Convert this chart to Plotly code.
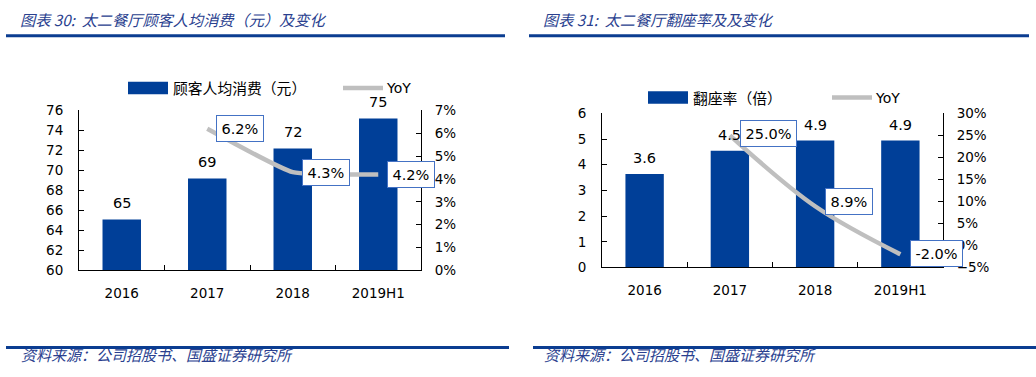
import plotly.graph_objects as go

# ---- data ----
categories = ["2016", "2017", "2018", "2019H1"]
spend = [65.1, 69.2, 72.2, 75.2]            # 顾客人均消费（元）
spend_yoy = [None, 0.062, 0.043, 0.042]     # YoY
turnover = [3.64, 4.54, 4.94, 4.94]         # 翻座率（倍）
turnover_yoy = [None, 0.25, 0.089, -0.02]   # YoY

W, H = 1036, 377
BLUE = "#003F98"
GRAY = "#BFBFBF"
RULE = "#0B3D91"
TITLE_C = "#2A3F8F"
FONT = "DejaVu Sans"
CJK = "Noto Sans CJK SC"

def px(x):
    return x / W

def py(y):
    return 1 - y / H

fig = go.Figure()

fig.add_trace(go.Bar(x=categories, y=spend, marker=dict(color=BLUE, line=dict(width=0)),
                     width=0.45, xaxis="x", yaxis="y", showlegend=False))
fig.add_trace(go.Scatter(x=categories, y=spend_yoy, mode="lines",
                         line=dict(color=GRAY, width=4.5, shape="spline", smoothing=0.4),
                         xaxis="x", yaxis="y2", showlegend=False))
fig.add_trace(go.Bar(x=categories, y=turnover, marker=dict(color=BLUE, line=dict(width=0)),
                     width=0.45, xaxis="x2", yaxis="y3", showlegend=False))
fig.add_trace(go.Scatter(x=categories, y=turnover_yoy, mode="lines",
                         line=dict(color=GRAY, width=4.5, shape="spline", smoothing=1),
                         xaxis="x2", yaxis="y4", showlegend=False))

tickfont = dict(family=FONT, size=13.5, color="#000")
ax_common = dict(showgrid=False, zeroline=False, showline=True, linecolor="#000", linewidth=1,
                 ticks="inside", ticklen=5, tickcolor="#000", tickfont=tickfont)

L_dom_x = [px(79), px(421)]
L_dom_y = [py(274), py(107)]
R_dom_x = [px(602), px(943)]
R_dom_y = [py(271), py(110)]

fig.update_layout(
    width=W, height=H, margin=dict(l=0, r=0, t=0, b=0),
    paper_bgcolor="white", plot_bgcolor="white",
    xaxis=dict(domain=L_dom_x, anchor="y", type="category", range=[-0.5, 3.5],
               tickson="boundaries", ticklabelstandoff=10, **ax_common),
    yaxis=dict(domain=L_dom_y, anchor="x", range=[60, 76], dtick=2, ticklabelstandoff=12, **ax_common),
    yaxis2=dict(domain=L_dom_y, anchor="x", overlaying="y", side="right", range=[0, 0.07],
                dtick=0.01, tickformat=".0%", ticklabelstandoff=10, **ax_common),
    xaxis2=dict(domain=R_dom_x, anchor="y3", type="category", range=[-0.5, 3.5],
                tickson="boundaries", ticklabelstandoff=10, **ax_common),
    yaxis3=dict(domain=R_dom_y, anchor="x2", range=[0, 6], dtick=1, ticklabelstandoff=12, **ax_common),
    yaxis4=dict(domain=R_dom_y, anchor="x2", overlaying="y3", side="right", range=[-0.05, 0.30],
                dtick=0.05, tickformat=".0%", ticklabelstandoff=10, **ax_common),
)

annotations = []
shapes = []

lblfont = dict(family=FONT, size=14.5, color="#000")
for i, v in enumerate(spend):
    annotations.append(dict(x=i, y=v, xref="x", yref="y", text=f"{v:.0f}", showarrow=False,
                            yanchor="bottom", yshift=6, font=lblfont))
for i, v in enumerate(turnover):
    annotations.append(dict(x=i, y=v, xref="x2", yref="y3", text=f"{v:.1f}", showarrow=False,
                            yanchor="bottom", yshift=6, font=lblfont))

box = dict(showarrow=False, xanchor="left", bgcolor="white", bordercolor="#4472C4", borderwidth=1,
           borderpad=4.5, font=lblfont)
for i, v in enumerate(spend_yoy):
    if v is not None:
        annotations.append(dict(x=i, y=v, xref="x", yref="y2", text=f"{v*100:.1f}%", xshift=9, **box))
for i, (v, ys) in enumerate(zip(turnover_yoy, [0, 2, 5, 1])):
    if v is not None:
        annotations.append(dict(x=i, y=v, xref="x2", yref="y4", text=f"{v*100:.1f}%", xshift=10,
                                yshift=ys, **box))

legfont = dict(family=CJK, size=14.8, color="#000")
def legend(x_rect, y_mid, label, x_line):
    shapes.append(dict(type="rect", xref="paper", yref="paper", x0=px(x_rect), x1=px(x_rect + 40),
                       y0=py(y_mid + 6.5), y1=py(y_mid - 6.5), fillcolor=BLUE, line=dict(width=0)))
    annotations.append(dict(x=px(x_rect + 43), y=py(y_mid), xref="paper", yref="paper", text=label,
                            showarrow=False, xanchor="left", yanchor="middle", font=legfont))
    shapes.append(dict(type="line", xref="paper", yref="paper", x0=px(x_line), x1=px(x_line + 40),
                       y0=py(y_mid), y1=py(y_mid), line=dict(color=GRAY, width=4.5)))
    annotations.append(dict(x=px(x_line + 41), y=py(y_mid), xref="paper", yref="paper", text="YoY",
                            showarrow=False, xanchor="left", yanchor="middle",
                            font=dict(family=FONT, size=14, color="#000")))

legend(128, 83.5, "顾客人均消费（元）", 343)
legend(648, 93.5, "翻座率（倍）", 832)

titlefont = dict(family=CJK, size=15.2, color=TITLE_C, style="italic")
annotations.append(dict(x=px(18), y=py(12), xref="paper", yref="paper", text="图表 30:  太二餐厅顾客人均消费（元）及变化",
                        showarrow=False, xanchor="left", yanchor="middle", font=titlefont))
annotations.append(dict(x=px(541), y=py(12), xref="paper", yref="paper", text="图表 31:  太二餐厅翻座率及及变化",
                        showarrow=False, xanchor="left", yanchor="middle", font=titlefont))
srcfont = dict(family=CJK, size=15, color=TITLE_C, style="italic")
annotations.append(dict(x=px(19), y=py(362), xref="paper", yref="paper", text="资料来源：公司招股书、国盛证券研究所",
                        showarrow=False, xanchor="left", yanchor="middle", font=srcfont))
annotations.append(dict(x=px(542), y=py(362), xref="paper", yref="paper", text="资料来源：公司招股书、国盛证券研究所",
                        showarrow=False, xanchor="left", yanchor="middle", font=srcfont))

for x0, x1 in [(6, 505), (529, 1029)]:
    shapes.append(dict(type="rect", xref="paper", yref="paper", x0=px(x0), x1=px(x1),
                       y0=py(30.5), y1=py(27.5), fillcolor=RULE, line=dict(width=0)))
for x0, x1 in [(6, 509), (533, 1036)]:
    shapes.append(dict(type="rect", xref="paper", yref="paper", x0=px(x0), x1=px(x1),
                       y0=py(356), y1=py(353), fillcolor=RULE, line=dict(width=0)))

fig.update_layout(annotations=annotations, shapes=shapes)

post = (
    "document.documentElement.style.margin='0';"
    "document.documentElement.style.overflow='hidden';"
    "document.body.style.margin='0';"
    "document.body.style.overflow='hidden';"
    "var gd=document.getElementById('{plot_id}');"
    "gd.style.position='fixed';gd.style.top='0px';gd.style.left='0px';"
)
fig.write_html("out.html", config={"displayModeBar": False}, post_script=post)
